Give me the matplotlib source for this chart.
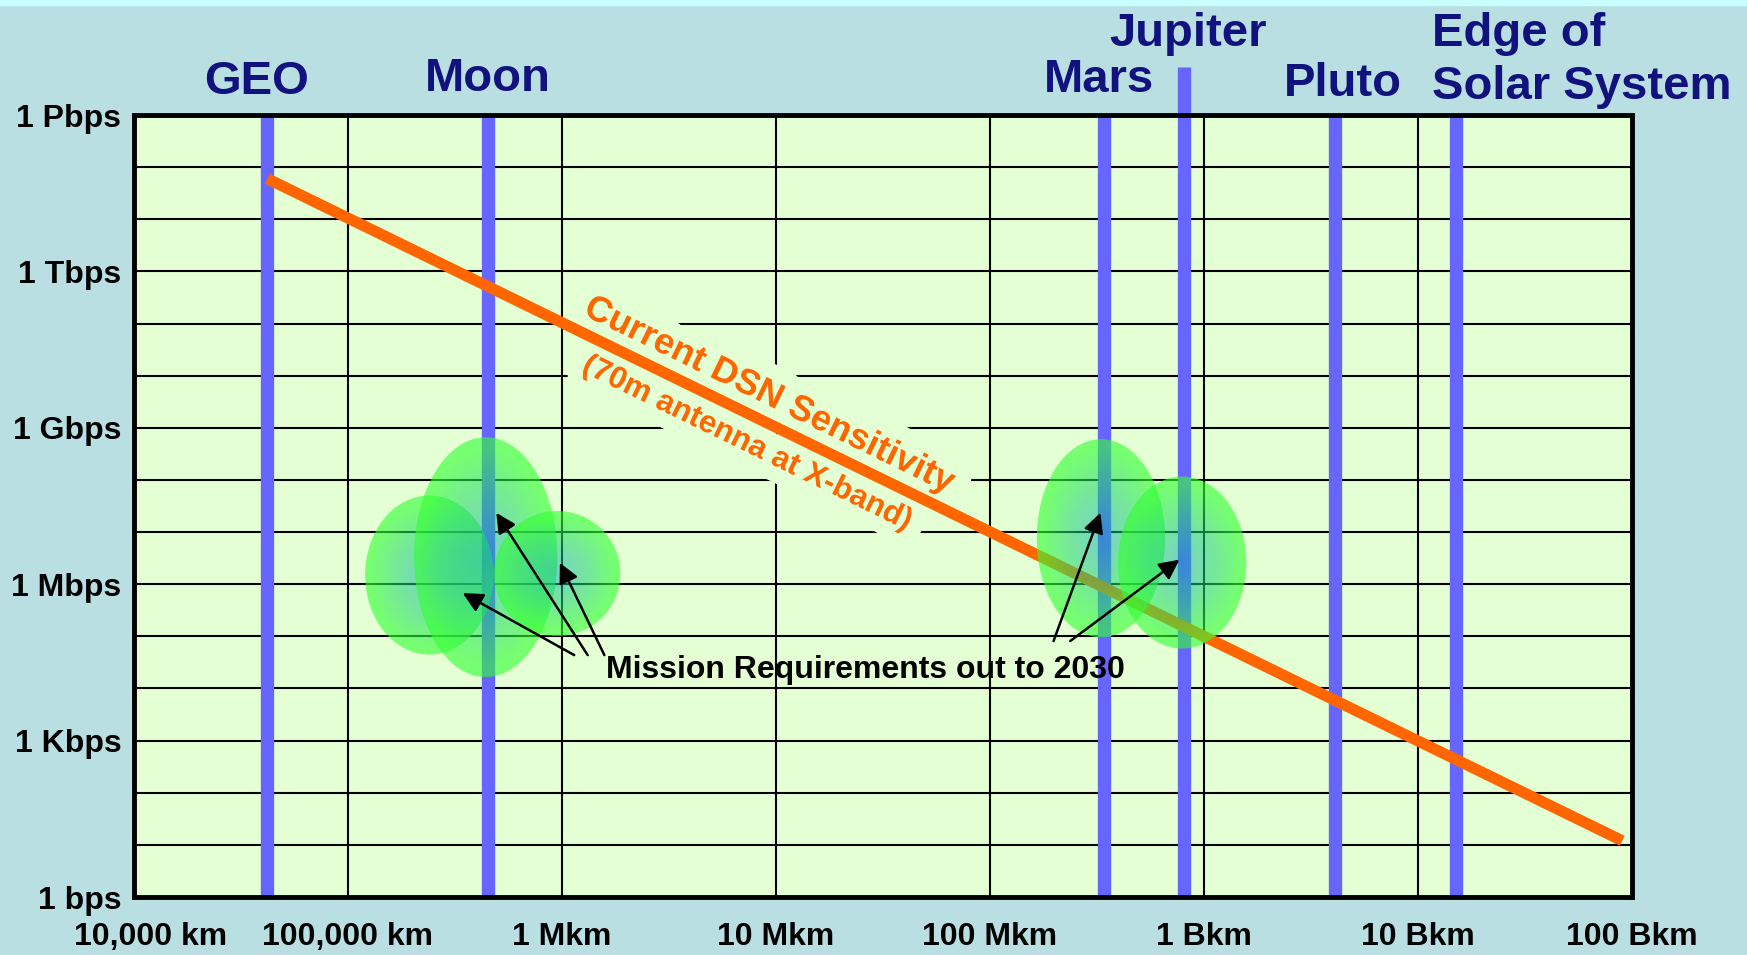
import numpy as np
import matplotlib
matplotlib.use('Agg')
import matplotlib.pyplot as plt
from matplotlib.patches import Ellipse, Rectangle
from matplotlib.transforms import ScaledTranslation
import matplotlib.patheffects as pe

plt.rcParams['font.family'] = ['Liberation Sans', 'DejaVu Sans']
plt.rcParams['font.weight'] = 'bold'

# distances of the targets (km)
target_names = ['GEO', 'Moon', 'Mars', 'Jupiter', 'Pluto', 'Edge of\nSolar System']
target_km = [4.2e4, 4.5e5, 3.4e8, 8.1e8, 4.1e9, 1.5e10]

x_tick_km = [1e4, 1e5, 1e6, 1e7, 1e8, 1e9, 1e10, 1e11]
x_tick_labels = ['10,000 km', '100,000 km', '1 Mkm', '10 Mkm', '100 Mkm', '1 Bkm', '10 Bkm', '100 Bkm']
y_tick_bps = [1, 1e3, 1e6, 1e9, 1e12, 1e15]
y_tick_labels = ['1 bps', '1 Kbps', '1 Mbps', '1 Gbps', '1 Tbps', '1 Pbps']

# current DSN sensitivity (70m antenna at X-band)
dsn_km = [4.2e4, 9.0e10]
dsn_bps = [6e13, 1.2e1]

# mission requirement regions: centre distance, centre rate, spread in decades
req_km = [2.4e5, 4.4e5, 9.5e5, 3.3e8, 7.9e8]
req_bps = [1.5e6, 3.3e6, 1.6e6, 7.6e6, 2.6e6]
req_w_dec = [0.60, 0.67, 0.59, 0.60, 0.60]
req_h_dec = [3.05, 4.6, 2.4, 3.8, 3.3]

BG = '#B9DFE3'
PLOT_BG = '#E5FFD5'
BAR = '#6666FF'
ORANGE = '#FF6600'
NAVY = '#12127F'

fig = plt.figure(figsize=(17.47, 9.55), dpi=100)
fig.patch.set_facecolor(BG)
fig.patches.append(Rectangle((0, 1 - 5 / 955), 1, 5 / 955, transform=fig.transFigure,
                             color='#C8FFFF', zorder=0))

ax = fig.add_axes([134 / 1747, 58 / 955, 1498 / 1747, 782 / 955])
ax.set_facecolor(PLOT_BG)


def gradient_ellipse(ax, cx, cy, w, h, z):
    n = 200
    u = np.linspace(-1, 1, n)
    X, Y = np.meshgrid(u, u)
    r = np.clip(np.hypot(X, Y) * 1.1, 0, 1)[..., None]
    centre = np.array([0.05, 0.65, 0.72, 0.5])
    edge = np.array([0.2, 1.0, 0.2, 0.62])
    rgba = centre * (1 - r) + edge * r
    im = ax.imshow(rgba, extent=[cx - w / 2, cx + w / 2, cy - h / 2, cy + h / 2],
                   origin='lower', zorder=z, interpolation='bilinear')
    e = Ellipse((cx, cy), w, h, facecolor='none', edgecolor='none')
    ax.add_patch(e)
    im.set_clip_path(e)


for km, bps, w, h in zip(req_km, req_bps, req_w_dec, req_h_dec):
    gradient_ellipse(ax, np.log10(km), np.log10(bps), w, h, 4)

ax.set_aspect('auto')
ax.set_xlim(4, 11)
ax.set_ylim(0, 15)

# vertical bars for the targets
for name, km in zip(target_names, target_km):
    top = 1.061 if name == 'Jupiter' else 1.0
    ax.axvline(np.log10(km), ymin=0, ymax=top, color=BAR, lw=9.6,
               solid_capstyle='butt', zorder=2, clip_on=False)

label_y = [1.042, 1.046, 1.045, 1.104, 1.040, 1.070]
label_dx = [-0.05, 0.0, -0.02, 0.015, 0.035, -0.112]
for name, km, yy, dx in zip(target_names, target_km, label_y, label_dx):
    ha = 'left' if name.startswith('Edge') else 'center'
    ax.text(np.log10(km) + dx, yy, name, transform=ax.get_xaxis_transform(),
            ha=ha, va='center', fontsize=34, color=NAVY, fontweight='bold',
            linespacing=1.25)

# DSN sensitivity line
lx = np.log10(dsn_km)
ly = np.log10(dsn_bps)
ax.plot(lx, ly, color=ORANGE, lw=8, solid_capstyle='butt', zorder=3)

p = ax.transData.transform(np.column_stack([lx, ly]))
ang = np.degrees(np.arctan2(p[1, 1] - p[0, 1], p[1, 0] - p[0, 0]))
halo = [pe.withStroke(linewidth=22, foreground=PLOT_BG)]
ax.text(6.97, 9.62, 'Current DSN Sensitivity', rotation=ang, rotation_mode='anchor',
        ha='center', va='center', fontsize=26, color=ORANGE, zorder=1, path_effects=halo)
ax.text(6.865, 8.70, '(70m antenna at X-band)', rotation=ang, rotation_mode='anchor',
        ha='center', va='center', fontsize=22.5, color=ORANGE, zorder=1, path_effects=halo)

# mission requirement annotations
ax.text(7.42, 4.36, 'Mission Requirements out to 2030', ha='center', va='center',
        fontsize=23, color='black', zorder=5)
arrows = [((6.057, 4.64), (5.536, 5.83)),
          ((6.12, 4.64), (5.693, 7.37)),
          ((6.198, 4.64), (5.99, 6.41)),
          ((8.297, 4.91), (8.516, 7.37)),
          ((8.375, 4.91), (8.885, 6.47))]
for tail, head in arrows:
    ax.annotate('', xy=head, xytext=tail, zorder=5,
                arrowprops=dict(arrowstyle='-|>', lw=1.8, color='black',
                                mutation_scale=30, shrinkA=0, shrinkB=0))

# axes styling
ax.set_xticks(np.log10(x_tick_km))
ax.set_xticklabels(x_tick_labels, fontsize=23, fontweight='bold')
ax.set_yticks(np.log10(y_tick_bps))
ax.set_yticklabels(y_tick_labels, fontsize=23, fontweight='bold')
ax.set_yticks(np.arange(0, 16), minor=True)
ax.tick_params(which='both', length=0)
ax.tick_params(axis='x', pad=18)
ax.tick_params(axis='y', pad=9)
ax.set_axisbelow(True)
ax.grid(which='both', color='black', lw=1.5)
for s in ax.spines.values():
    s.set_linewidth(3.5)
    s.set_zorder(6)

# first distance label sits a little right of the frame edge
first = ax.get_xticklabels()[0]
first.set_transform(first.get_transform() + ScaledTranslation(0.17, 0, fig.dpi_scale_trans))

fig.savefig('out.png', dpi=100, facecolor=BG)
